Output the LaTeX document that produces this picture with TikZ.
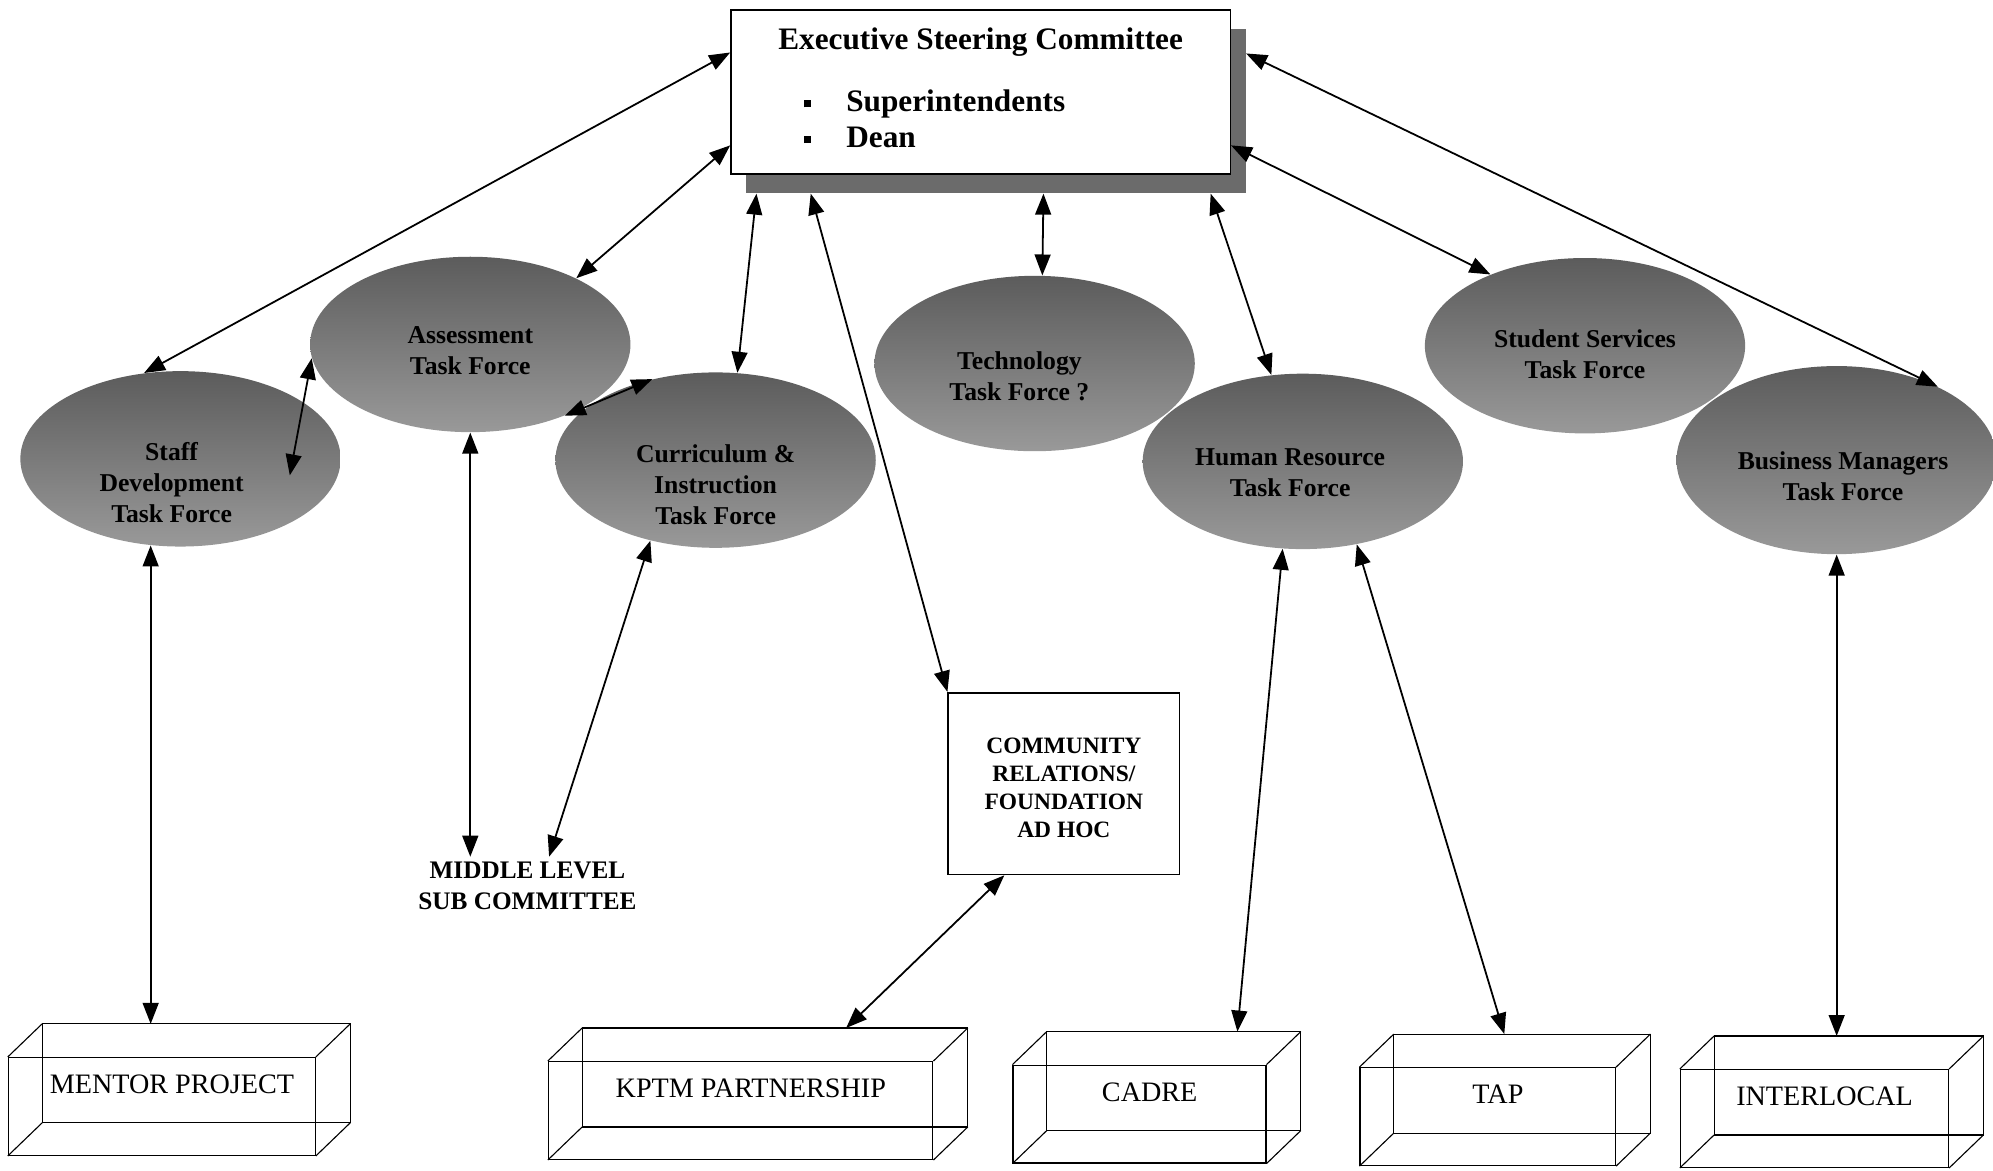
\documentclass[tikz,border=0pt]{standalone}
\usepackage{fontspec}
\setmainfont{Liberation Serif}
\usetikzlibrary{arrows.meta}
\usetikzlibrary{shapes.geometric}
\usetikzlibrary{calc}

\newcommand{\tflabel}[3][0mm]{\smash{\raisebox{#2}{\hspace*{#1}\begin{tabular}{@{}c@{}}#3\end{tabular}}}}
\newcommand{\boxlabel}[1]{\smash{\raisebox{2mm}{\hspace{3.2mm}#1}}}

\begin{document}
\begin{tikzpicture}[x=0.2mm, y=-0.2mm,
    taskforce/.style={ellipse, inner sep=0pt, minimum width=50.4mm, minimum height=27.6mm,
      top color=black!64, bottom color=black!40, font=\fontsize{11.5}{13.9}\selectfont\bfseries},
    box3d/.style={draw, line width=0.5pt, inner sep=0pt, minimum height=15.4mm,
      font=\fontsize{12.6}{14}\selectfont},
    boxline/.style={line width=0.5pt},
    biarrow/.style={{Triangle[length=3.3mm,width=2.5mm]}-{Triangle[length=3.3mm,width=2.5mm]}, line width=0.8pt}]

	\path[use as bounding box, fill=white] (0,0) rectangle (1568,921);

	% steering committee
	\node[fill=black!58, minimum width=78.6mm, minimum height=25.8mm, inner sep=0pt] (escsh) at (783.5,87.5) {};
	\node[draw, fill=white, line width=0.6pt, minimum width=78.6mm, minimum height=25.8mm, inner sep=0pt] (esc) at (771.5,72.5) {};
	\node[font=\fontsize{14}{16}\selectfont\bfseries] (esctitle) at ([shift={(0,26)}]esc.north) {Executive Steering Committee};
	\node[anchor=west, inner sep=0pt, font=\fontsize{14}{16}\selectfont\bfseries] (esclist) at ([shift={(58,23.5)}]esc.west)
		{\begin{tabular}{@{}l@{\hspace{5.5mm}}l@{}}
		\raisebox{0.6mm}{\rule{1.1mm}{1.1mm}} & Superintendents\\
		\raisebox{0.6mm}{\rule{1.1mm}{1.1mm}} & Dean
		\end{tabular}};

	% task forces
	\node[taskforce] (staff) at (142,361) {\tflabel[-2.8mm]{-5.2mm}{Staff\\Development\\Task Force}};
	\node[taskforce] (assess) at (370,271) {\tflabel{-2.4mm}{Assessment\\Task Force}};
	\node[taskforce] (curric) at (563,362) {\tflabel{-5.4mm}{Curriculum \&\\Instruction\\Task Force}};
	\node[taskforce] (tech) at (814,286) {\tflabel[-4.8mm]{-3.4mm}{Technology\\Task Force ?}};
	\node[taskforce] (hr) at (1025,363) {\tflabel[-4mm]{-3.2mm}{Human Resource\\Task Force}};
	\node[taskforce] (stud) at (1247,272) {\tflabel{-2.8mm}{Student Services\\Task Force}};
	\node[taskforce, minimum height=29.6mm] (bus) at (1445,362) {\tflabel[2mm]{-4mm}{Business Managers\\Task Force}};

	\node[draw, line width=0.7pt, minimum width=36.4mm, minimum height=28.6mm, inner sep=0pt,
		font=\fontsize{10.5}{12.5}\selectfont\bfseries] (comm) at (837,616.5) {\tflabel{-2mm}{COMMUNITY\\RELATIONS/\\FOUNDATION\\AD HOC}};
	\node[align=center, inner sep=0.8mm, font=\fontsize{11.3}{13.7}\selectfont\bfseries] (mid) at (415,697) {MIDDLE LEVEL\\SUB COMMITTEE};

	% projects
	\node[box3d, minimum width=48.3mm] (mentor) at (127.3,870.5) {\boxlabel{MENTOR PROJECT}};
	\node[box3d, minimum width=60.5mm] (kptm) at (582.7,873.7) {\boxlabel{KPTM PARTNERSHIP}};
	\node[box3d, minimum width=39.8mm] (cadre) at (896.5,876.5) {\boxlabel{CADRE}};
	\node[box3d, minimum width=40.2mm] (tap) at (1170.5,878.5) {\boxlabel{TAP}};
	\node[box3d, minimum width=42.2mm] (inter) at (1427.5,880) {\boxlabel{INTERLOCAL}};
	\foreach \b in {mentor,kptm,cadre,tap,inter} {
		\draw[boxline] ([shift={(27,-26)}]\b.north west) rectangle ([shift={(27,-26)}]\b.south east);
		\foreach \corner in {north west,north east,south east,south west}
			\draw[boxline] (\b.\corner) -- ([shift={(27,-26)}]\b.\corner);
		\coordinate (\b-top) at ([shift={(27,-26)}]\b.north);
	}

	% links
	\draw[biarrow] (esc.171) -- (staff.113);
	\draw[biarrow] (esc.192) -- (assess.32);
	\draw[biarrow] (escsh.199) -- (curric.76);
	\draw[biarrow] (escsh.204) -- (comm.north west);
	\draw[biarrow] (escsh.300) -- (tech.85);
	\draw[biarrow] (escsh.339) -- (hr.110);
	\draw[biarrow] (esc.348) -- (stud.143);
	\draw[biarrow] (escsh.13) -- (bus.36);
	\draw[biarrow] (assess.185) -- ([shift={(86,13)}]staff.center);
	\draw[biarrow] (assess.323) -- (curric.128);
	\draw[biarrow] (assess.south) -- (assess.south |- mid.north);
	\draw[biarrow] (curric.231) -- ([xshift=3.4mm]mid.north);
	\draw[biarrow] (staff.251) -- (staff.251 |- mentor-top);
	\draw[biarrow] (comm.237) -- ([xshift=11.2mm]kptm-top);
	\draw[biarrow] (hr.257) -- ([xshift=10mm]cadre-top);
	\draw[biarrow] (hr.303) -- ([xshift=-2.8mm]tap-top);
	\draw[biarrow] (bus.south) -- (bus.south |- inter-top);
\end{tikzpicture}
\end{document}
